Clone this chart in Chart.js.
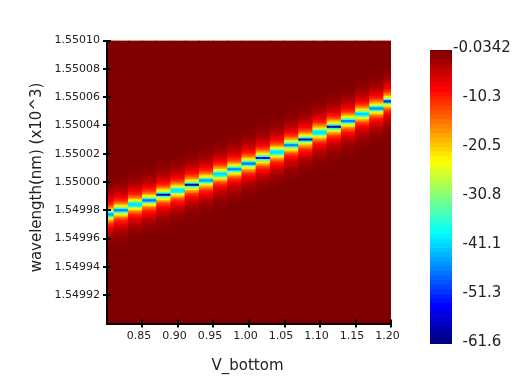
<!DOCTYPE html>
<html>
<head>
<meta charset="utf-8">
<style>
html,body{margin:0;padding:0;background:#fff;width:532px;height:387px;overflow:hidden}
.box{position:absolute;left:0;top:0;width:532px;height:387px}
</style>
<script src="https://cdn.jsdelivr.net/npm/chart.js@4/dist/chart.umd.min.js"></script>
</head>
<body>
<div class="box"><canvas id="map" width="532" height="387"></canvas></div>
<div class="box"><canvas id="bar" width="532" height="387"></canvas></div>
<script>
const voltages = [0.80,0.82,0.84,0.86,0.88,0.90,0.92,0.94,0.96,0.98,1.00,1.02,1.04,1.06,1.08,1.10,1.12,1.14,1.16,1.18,1.20];
const centers = [1.549977,1.549980,1.549984,1.549987,1.549991,1.549994,1.549998,1.550001,1.5500055,1.550009,1.550013,1.550017,1.550021,1.550026,1.550030,1.550035,1.550039,1.550043,1.550048,1.550052,1.550057];
const peakDb = [-45,-47,-40,-47,-58,-40,-58,-45,-40,-46,-47,-55,-40,-46,-58,-40,-58,-46,-41,-46,-52];
const shoulderDb = [-38,-37,-38,-37,-36,-38,-36,-37,-38,-37,-37,-36,-38,-37,-36,-38,-36,-37,-38,-37,-36];
const tailDb = [-27,-22,-18,-14.5,-12,-10,-8.6,-7.5,-6.4,-5.4,-4.6,-3.8,-3.2,-2.7,-2.2,-1.8,-1.5,-1.2,-1,-0.8,-0.65,-0.5,-0.4,-0.3,-0.2,-0.12];
const backgroundDb = -0.0342;
const rowStep = 0.000001;
const xTicks = [0.85,0.90,0.95,1.00,1.05,1.10,1.15,1.20];
const yTicks = [1.54992,1.54994,1.54996,1.54998,1.55000,1.55002,1.55004,1.55006,1.55008,1.55010];
const colorTicks = [-0.0342,-10.3,-20.5,-30.8,-41.1,-51.3,-61.6];
const colorLabels = ['-0.0342','-10.3','-20.5','-30.8','-41.1','-51.3','-61.6'];
const jetStops = [[0,0,0,128],[0.125,0,0,255],[0.375,0,255,255],[0.625,255,255,0],[0.875,255,0,0],[1,128,0,0]];
const barLevels = 64, mapLevels = 256;
const dbMin = -61.6, dbMax = -0.0342;
const textColor = '#222';
const fontFamily = '"DejaVu Sans"';

function colorFor(db, levels){
  let t = (db - dbMin) / (dbMax - dbMin);
  t = Math.max(0, Math.min(1, t));
  t = Math.min(levels - 1, Math.floor(t * levels)) / (levels - 1);
  for (let i = 1; i < jetStops.length; i++) {
    const a = jetStops[i-1], b = jetStops[i];
    if (t <= b[0]) {
      const f = (t - a[0]) / (b[0] - a[0]);
      return `rgb(${[1,2,3].map(k => Math.round(a[k] + (b[k]-a[k]) * f)).join(',')})`;
    }
  }
  return 'rgb(128,0,0)';
}

const cells = [], cellColors = [];
function addCell(x, lo, hi, db){ cells.push({x, y:[lo, hi]}); cellColors.push(colorFor(db, mapLevels)); }
voltages.forEach(v => addCell(v, 1.5499, 1.5501, backgroundDb));
voltages.forEach((v, i) => {
  const c = centers[i];
  for (let k = tailDb.length - 1; k >= 0; k--) {
    const off = (k + 2) * rowStep;
    addCell(v, c + off - rowStep/2, c + off + rowStep/2, tailDb[k]);
    addCell(v, c - off - rowStep/2, c - off + rowStep/2, tailDb[k]);
  }
  addCell(v, c + rowStep/2, c + rowStep*1.5, shoulderDb[i]);
  addCell(v, c - rowStep*1.5, c - rowStep/2, shoulderDb[i]);
  addCell(v, c - rowStep/2, c + rowStep/2, peakDb[i]);
});

const innerTicks = {
  id:'innerTicks',
  afterDatasetsDraw(chart){
    const {ctx, scales:{x, y}, chartArea:a} = chart;
    ctx.save();
    ctx.fillStyle = '#000';
    x.ticks.forEach(t => { const p = Math.round(x.getPixelForValue(t.value)); ctx.fillRect(p-1, a.bottom-4, 2, 4); });
    y.ticks.forEach(t => { const p = Math.round(y.getPixelForValue(t.value)); ctx.fillRect(a.left, p-1, 4, 2); });
    ctx.restore();
  }
};
function nudgeTitle(scale, startKey, endKey, shift){
  const draw = scale.drawTitle;
  scale.drawTitle = function(){
    this[startKey] -= shift; this[endKey] -= shift;
    draw.apply(this, arguments);
    this[startKey] += shift; this[endKey] += shift;
  };
}
const titleNudge = {
  id:'titleNudge',
  afterLayout(chart){
    if (chart.$nudged) return;
    chart.$nudged = true;
    nudgeTitle(chart.scales.y, 'top', 'bottom', 4.5);
    nudgeTitle(chart.scales.x, 'left', 'right', 1.5);
  }
};

new Chart(document.getElementById('map'), {
  type:'bar',
  data:{datasets:[{data:cells, backgroundColor:cellColors, borderWidth:0, barThickness:14.3}]},
  plugins:[innerTicks, titleNudge],
  options:{
    responsive:false, animation:false, events:[],
    layout:{padding:{left:0,right:141,top:40.5,bottom:0}},
    plugins:{legend:{display:false},tooltip:{enabled:false}},
    scales:{
      x:{
        type:'linear', min:0.80, max:1.20, offset:false,
        afterBuildTicks(s){ s.ticks = xTicks.map(value => ({value})); },
        afterFit(s){ s.height = 63.5; },
        grid:{offset:false, drawOnChartArea:false, tickLength:4, color:'#000', lineWidth:2},
        border:{color:'#000', width:2, z:2},
        ticks:{autoSkip:false, maxRotation:0, padding:2, labelOffset:-3.5, color:textColor,
          font:{family:fontFamily,size:11}, callback:v => Number(v).toFixed(2)},
        title:{display:true, text:'V_bottom', color:textColor, font:{family:fontFamily,size:15}, padding:{top:0,bottom:12}}
      },
      y:{
        type:'linear', min:1.5499, max:1.5501,
        afterBuildTicks(s){ s.ticks = yTicks.map(value => ({value})); },
        afterFit(s){ s.width = 107; },
        grid:{drawOnChartArea:false, tickLength:4, color:'#000', lineWidth:2},
        border:{color:'#000', width:2, z:2},
        ticks:{autoSkip:false, padding:3, color:textColor, font:{family:fontFamily,size:11},
          callback:v => Number(v).toFixed(5)},
        title:{display:true, text:'wavelength(nm) (x10^3)', color:textColor, font:{family:fontFamily,size:15}, padding:{top:28,bottom:0}}
      }
    }
  }
});

const bandData = [], bandColors = [];
for (let i = 0; i < barLevels; i++) {
  const lo = dbMin + (dbMax - dbMin) * i / barLevels, hi = dbMin + (dbMax - dbMin) * (i + 1) / barLevels;
  bandData.push({x:0, y:[lo, hi]});
  bandColors.push(colorFor((lo + hi) / 2, barLevels));
}
new Chart(document.getElementById('bar'), {
  type:'bar',
  data:{datasets:[{data:bandData, backgroundColor:bandColors, borderWidth:0, barThickness:22}]},
  options:{
    responsive:false, animation:false, events:[],
    layout:{padding:{left:430,right:0,top:50,bottom:43}},
    plugins:{legend:{display:false},tooltip:{enabled:false}},
    scales:{
      x:{type:'linear', min:-1, max:1, display:false},
      y:{
        type:'linear', position:'right', min:dbMin, max:dbMax,
        afterBuildTicks(s){ s.ticks = colorTicks.map(value => ({value})); },
        afterFit(s){ s.width = 80; },
        grid:{display:false, drawTicks:false},
        border:{display:false},
        ticks:{autoSkip:false, padding:1, crossAlign:'center', labelOffset:-1.5, color:textColor,
          font:{family:fontFamily,size:15},
          callback:(v,i) => colorLabels[i]}
      }
    }
  }
});
</script>
</body>
</html>
